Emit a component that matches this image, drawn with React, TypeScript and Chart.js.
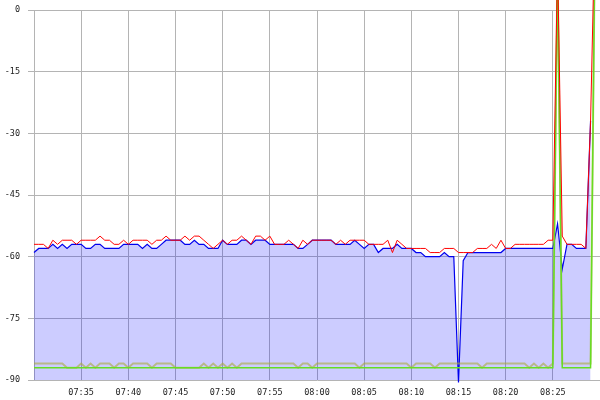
import { useEffect, useRef } from "react";
import { Chart, registerables } from "chart.js";

Chart.register(...registerables);

// minutes after 07:30, one sample every 30 s
const TIMES: number[] = Array.from({ length: 121 }, (_, i) => i * 0.5);

const TICK_POS = [5, 10, 15, 20, 25, 30, 35, 40, 45, 50, 55];
const TICK_LABELS = ["07:35", "07:40", "07:45", "07:50", "07:55", "08:00", "08:05", "08:10", "08:15", "08:20", "08:25"];
const Y_TICKS = [0, -15, -30, -45, -60, -75, -90];

const RED = [
  -57, -57, -57, -58, -56, -57, -56, -56, -56, -57,
  -56, -56, -56, -56, -55, -56, -56, -57, -57, -56,
  -57, -56, -56, -56, -56, -57, -56, -56, -55, -56,
  -56, -56, -55, -56, -55, -55, -56, -57, -58, -57,
  -56, -57, -56, -56, -55, -56, -57, -55, -55, -56,
  -55, -57, -57, -57, -56, -57, -58, -56, -57, -56,
  -56, -56, -56, -56, -57, -56, -57, -56, -56, -56,
  -56, -57, -57, -57, -57, -56, -59, -56, -57, -58,
  -58, -58, -58, -58, -59, -59, -59, -58, -58, -58,
  -59, -59, -59, -59, -58, -58, -58, -57, -58, -56,
  -58, -58, -57, -57, -57, -57, -57, -57, -57, -56,
  -56, 12, -55, -57, -57, -57, -57, -58, -27, 25,
];

const BLUE = [
  -59, -58, -58, -58, -57, -58, -57, -58, -57, -57,
  -57, -58, -58, -57, -57, -58, -58, -58, -58, -57,
  -57, -57, -57, -58, -57, -58, -58, -57, -56, -56,
  -56, -56, -57, -57, -56, -57, -57, -58, -58, -58,
  -56, -57, -57, -57, -56, -56, -57, -56, -56, -56,
  -57, -57, -57, -57, -57, -57, -58, -58, -57, -56,
  -56, -56, -56, -56, -57, -57, -57, -57, -56, -57,
  -58, -57, -57, -59, -58, -58, -58, -57, -58, -58,
  -58, -59, -59, -60, -60, -60, -60, -59, -60, -60,
  -90.6, -61, -59, -59, -59, -59, -59, -59, -59, -59,
  -58, -58, -58, -58, -58, -58, -58, -58, -58, -58,
  -58, -52, -63, -57, -57, -58, -58, -58, -27,
];

const KHAKI = [
  -86, -86, -86, -86, -86, -86, -86, -87, -87, -87,
  -86, -87, -86, -87, -86, -86, -86, -87, -86, -86,
  -87, -86, -86, -86, -86, -87, -86, -86, -86, -86,
  -87, -87, -87, -87, -87, -87, -86, -87, -86, -87,
  -86, -87, -86, -87, -86, -86, -86, -86, -86, -86,
  -86, -86, -86, -86, -86, -86, -87, -86, -86, -87,
  -86, -86, -86, -86, -86, -86, -86, -86, -86, -87,
  -86, -86, -86, -86, -86, -86, -86, -86, -86, -86,
  -87, -86, -86, -86, -86, -87, -86, -86, -86, -86,
  -86, -86, -86, -86, -86, -87, -86, -86, -86, -86,
  -86, -86, -86, -86, -86, -87, -86, -87, -86, -87,
  -86, 11, -86, -86, -86, -86, -86, -86, -86, 25,
];

const GREEN = [
  -87, -87, -87, -87, -87, -87, -87, -87, -87, -87,
  -87, -87, -87, -87, -87, -87, -87, -87, -87, -87,
  -87, -87, -87, -87, -87, -87, -87, -87, -87, -87,
  -87, -87, -87, -87, -87, -87, -87, -87, -87, -87,
  -87, -87, -87, -87, -87, -87, -87, -87, -87, -87,
  -87, -87, -87, -87, -87, -87, -87, -87, -87, -87,
  -87, -87, -87, -87, -87, -87, -87, -87, -87, -87,
  -87, -87, -87, -87, -87, -87, -87, -87, -87, -87,
  -87, -87, -87, -87, -87, -87, -87, -87, -87, -87,
  -87, -87, -87, -87, -87, -87, -87, -87, -87, -87,
  -87, -87, -87, -87, -87, -87, -87, -87, -87, -87,
  -87, 11, -87, -87, -87, -87, -87, -87, -87, 25,
];

const GRID = "#b4b4b4";
const FONT = { family: "'DejaVu Sans Mono', monospace", size: 8.5 };

const pts = (arr: number[]) => arr.map((v, i) => ({ x: TIMES[i], y: v }));

export default function App() {
  const ref = useRef<HTMLCanvasElement | null>(null);

  useEffect(() => {
    document.body.style.margin = "0";
    if (!ref.current) return;
    const chart = new Chart(ref.current, {
      type: "line",
      data: {
        datasets: [
          {
            data: pts(RED),
            borderColor: "#ff0000",
            borderWidth: 1,
            pointRadius: 0,
            pointHoverRadius: 0,
            fill: false,
            clip: false as any,
            order: 0,
          },
          {
            data: pts(GREEN),
            borderColor: "#66dd22",
            borderWidth: 1.5,
            pointRadius: 0,
            pointHoverRadius: 0,
            fill: false,
            clip: false as any,
            order: 1,
          },
          {
            data: pts(KHAKI),
            borderColor: "rgba(170,170,60,0.6)",
            borderWidth: 2,
            pointRadius: 0,
            pointHoverRadius: 0,
            fill: false,
            clip: false as any,
            order: 2,
          },
          {
            data: pts(BLUE),
            borderColor: "#0000ee",
            borderWidth: 1.2,
            pointRadius: 0,
            pointHoverRadius: 0,
            fill: "start",
            backgroundColor: "rgba(0,0,255,0.2)",
            clip: false as any,
            order: 3,
          },
        ],
      },
      options: {
        responsive: false,
        animation: false,
        layout: { autoPadding: false, padding: { top: 10, right: 0, bottom: 0, left: 0 } } as any,
        plugins: { legend: { display: false }, tooltip: { enabled: false } },
        elements: { line: { tension: 0 } },
        scales: {
          x: {
            type: "linear",
            min: 0,
            max: 60,
            afterBuildTicks: (s: any) => {
              s.ticks = TICK_POS.map((v) => ({ value: v }));
            },
            afterFit: (s: any) => {
              s.height = 20;
              s.paddingLeft = 0;
              s.paddingRight = 0;
            },
            grid: { color: GRID, drawTicks: false, lineWidth: 1 },
            border: { display: false },
            ticks: {
              autoSkip: false,
              maxRotation: 0,
              padding: 8,
              color: "#222",
              font: FONT,
              callback: (v: any) => {
                const k = TICK_POS.indexOf(Number(v));
                return k >= 0 ? TICK_LABELS[k] : "";
              },
            },
          },
          y: {
            type: "linear",
            min: -90,
            max: 0,
            afterBuildTicks: (s: any) => {
              s.ticks = Y_TICKS.map((v) => ({ value: v }));
            },
            afterFit: (s: any) => {
              s.width = 34;
              s.paddingTop = 0;
              s.paddingBottom = 0;
            },
            grid: { color: GRID, tickLength: 6, lineWidth: 1 },
            border: { display: true, color: GRID },
            ticks: {
              padding: 8,
              color: "#222",
              font: FONT,
              callback: (v: any) => String(v),
            },
          },
        },
      },
    });
    return () => chart.destroy();
  }, []);

  return (
    <div style={{ width: 600, height: 400 }}>
      <canvas ref={ref} width={600} height={400} style={{ display: "block" }} />
    </div>
  );
}
